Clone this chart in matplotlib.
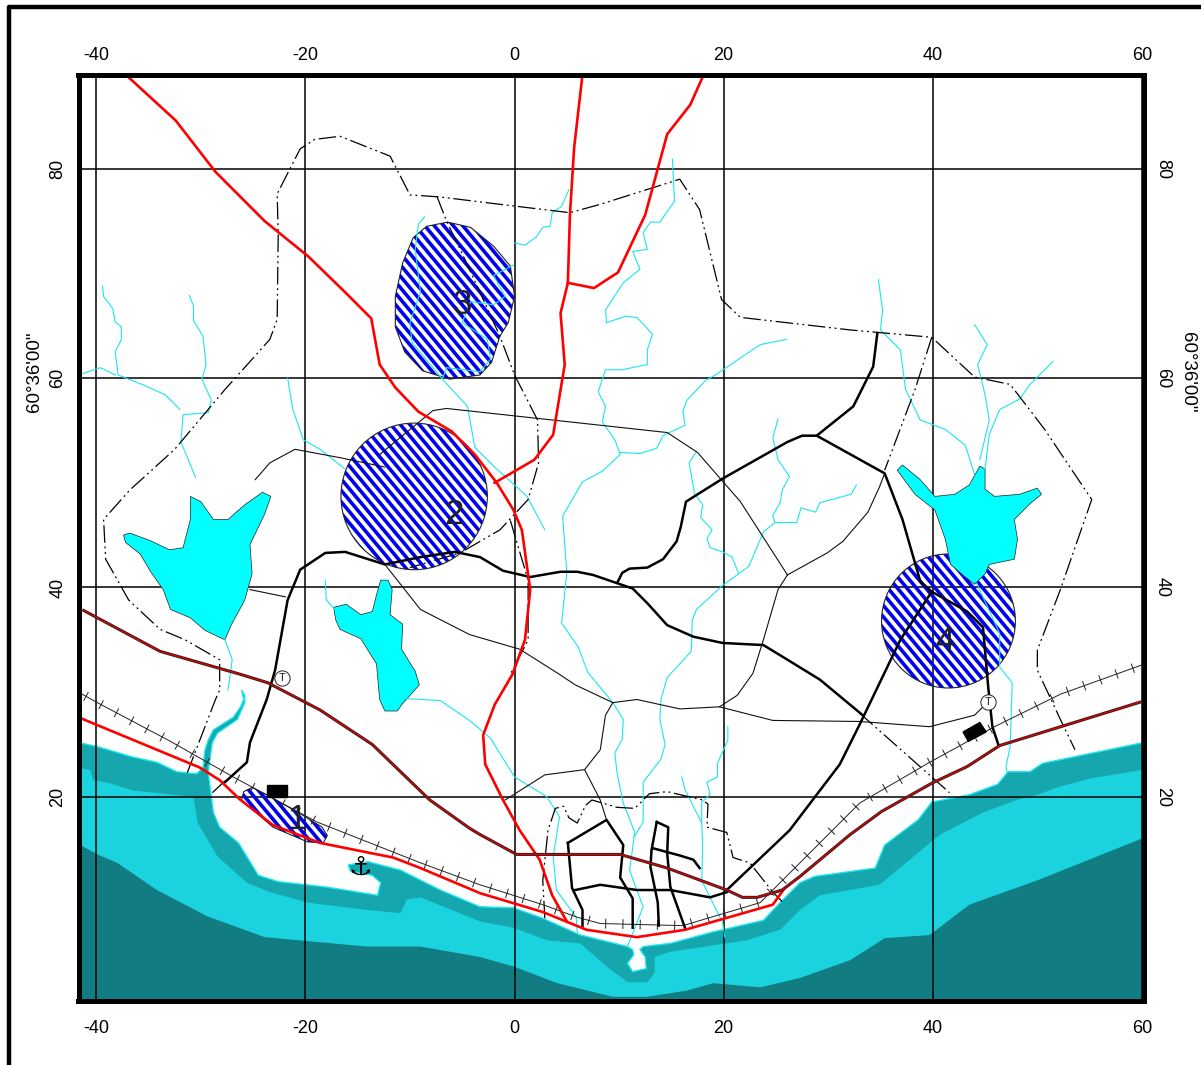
import matplotlib
matplotlib.use('Agg')
import matplotlib.pyplot as plt
import numpy as np
from matplotlib.lines import Line2D
from matplotlib.patches import Polygon, Circle, Rectangle

plt.rcParams['font.family'] = ['Liberation Sans', 'DejaVu Sans']
plt.rcParams['axes.unicode_minus'] = False

x_ticks = [-40, -20, 0, 20, 40, 60]
y_ticks = [20, 40, 60, 80]
lat_label = '60°36\'00"'

# sea layers, top edge of each from west to east
shore = [(-41.7,25.2),(-39.9,24.8),(-36.5,23.8),(-34.2,23.3),(-32.3,22.4),(-30.4,22.2),(-29.8,22.8),(-29.6,24.5),(-29.3,25.4),(-28.8,26.4),(-26.9,27.6),(-26.2,28.6),(-25.9,29.3),(-26.1,30.2),(-25.8,29.7),(-25.8,29.0),(-26.5,27.4),(-28.4,26.1),(-28.9,25.2),(-29.3,22.4),(-28.8,18.5),(-28.2,17.1),(-26.4,15.6),(-24.5,12.5),(-22.6,11.9),(-18.1,11.4),(-13.1,10.6),(-12.8,11.8),(-13.6,12.5),(-15.7,12.9),(-15.9,13.5),(-14.0,13.8),(-10.9,13.0),(-7.1,11.1),(-3.3,9.5),(-0.1,9.4),(2.7,8.4),(6.3,6.8),(10.8,5.7),(11.3,5.4),(11.4,4.9),(10.8,4.1),(11.3,3.3),(12.6,3.6),(12.5,4.7),(12.0,5.4),(12.3,5.7),(14.9,6.0),(19.0,7.1),(23.8,8.2),(25.4,9.9),(27.3,11.8),(28.7,12.4),(34.5,13.2),(35.4,15.4),(38.6,17.8),(39.9,19.5),(43.5,20.2),(46.2,21.2),(47.2,22.4),(49.3,22.4),(50.5,23.2),(53.4,23.8),(60.2,25.2)]
shallow = [(-41.7,22.7),(-40.6,22.6),(-40.3,21.6),(-38.7,21.3),(-36.5,20.6),(-30.7,20.0),(-30.3,17.5),(-28.4,14.3),(-25.6,11.8),(-23.4,10.9),(-19.8,9.9),(-14.1,9.2),(-10.9,8.9),(-10.3,10.2),(-9.0,10.4),(-3.3,8.1),(-0.1,7.5),(3.1,6.3),(6.3,6.0),(8.8,3.8),(10.8,2.3),(12.7,2.3),(13.4,3.2),(13.4,4.7),(14.9,5.2),(22.2,6.3),(25.4,7.3),(27.3,9.2),(29.2,10.6),(34.9,11.6),(37.8,14.0),(40.7,16.4),(44.8,18.5),(48.0,19.7),(50.0,20.2),(52.2,21.0),(55.3,21.8),(60.2,22.6)]
deep = [(-41.7,15.5),(-39.9,14.5),(-38.0,13.7),(-34.2,11.1),(-29.4,8.6),(-23.9,6.6),(-14.1,5.7),(-9.0,5.7),(-3.3,4.7),(-0.1,3.8),(4.1,2.2),(9.4,0.9),(12.7,0.9),(16.5,1.5),(19.0,2.2),(23.5,1.8),(27.3,2.7),(32.1,4.4),(35.4,6.5),(39.7,6.8),(43.5,9.7),(50.2,12.1),(60.2,16.1)]

lake_a = [(-37.4,45.0),(-36.8,45.2),(-34.9,44.5),(-33.0,43.6),(-31.7,43.8),(-31.0,46.5),(-31.0,48.7),(-30.0,48.2),(-28.8,46.5),(-27.4,46.5),(-25.8,47.9),(-24.1,49.1),(-23.3,48.7),(-23.9,47.0),(-25.3,44.1),(-25.1,41.3),(-25.8,38.8),(-27.1,36.4),(-27.7,35.0),(-29.6,35.9),(-31.0,37.1),(-32.9,37.9),(-33.6,39.8),(-34.8,41.5),(-35.8,43.2),(-37.2,44.3)]
lake_b = [(-17.3,38.1),(-16.1,38.4),(-14.7,37.4),(-13.6,37.7),(-13.2,39.3),(-12.8,40.7),(-12.1,40.7),(-11.7,39.8),(-11.9,37.4),(-10.7,36.5),(-10.8,34.1),(-9.5,32.0),(-9.1,30.7),(-10.8,28.8),(-11.2,28.2),(-12.4,28.2),(-12.9,29.3),(-13.2,32.7),(-14.7,35.1),(-16.7,36.0),(-17.1,36.9)]
lake_c = [(36.6,51.2),(37.1,51.7),(38.8,50.3),(40.2,48.7),(42.1,48.9),(43.5,49.8),(44.5,51.6),(45.0,51.3),(45.0,49.4),(45.9,48.7),(48.3,48.9),(50.0,49.5),(50.4,48.9),(49.3,48.0),(47.8,46.5),(48.1,44.6),(47.8,42.7),(45.4,42.2),(45.0,41.3),(44.0,40.3),(43.1,41.0),(41.7,42.2),(41.2,44.6),(40.2,47.4),(38.3,48.9)]

# hatched zones
zone_1 = [(-25.1,20.9),(-23.7,20.2),(-20.5,18.4),(-18.4,17.1),(-17.9,16.3),(-18.3,15.6),(-19.8,15.7),(-23.1,17.1),(-26.1,19.7),(-25.9,20.5)]
zone_3 = [(-6.4,74.9),(-4.2,74.4),(-2.0,72.6),(-0.4,70.7),(0,67.8),(-0.6,65.3),(-1.4,64.0),(-2.2,61.5),(-3.3,60.3),(-6.2,59.9),(-8.8,60.7),(-10.5,62.5),(-11.4,64.9),(-11.4,67.8),(-10.7,71.0),(-9.7,73.4),(-8.4,74.5)]
zone_2_centre = (-9.6, 48.7)
zone_2_radius = 7.0
zone_4_centre = (41.5, 36.8)
zone_4_radius = 6.4
zone_numbers = ['1', '2', '3', '4']
zone_number_x = [-20.8, -5.8, -5.0, 41.2]
zone_number_y = [17.8, 47.0, 67.0, 34.8]

# red roads
red_roads = [
    [(-37.2,89.0),(-32.4,84.6),(-28.6,79.7),(-23.9,75.0),(-19.7,71.6),(-16.2,68.2),(-13.7,65.7),(-12.9,61.3),(-11.4,59.1),(-9.2,56.8),(-6.0,54.9),(-3.8,52.7),(-1.7,50.0),(-0.1,47.4),(0.7,45.5),(1.5,39.8),(1.0,35.0),(-0.2,31.7),(-1.9,28.8),(-3.0,25.9),(-2.8,23.1),(-1.1,19.7),(0.5,16.8),(2.4,14.0),(3.6,10.6),(5.0,8.1)],
    [(6.5,89.0),(5.7,82.0),(5.3,75.6),(5.1,69.1),(4.4,66.2),(4.8,61.3),(3.7,54.6),(1.9,52.2),(-1.9,50.0)],
    [(18.1,89.0),(16.8,86.1),(14.6,83.3),(12.5,75.6),(9.9,70.1),(7.6,68.6),(5.1,69.1)],
    [(-41.7,27.6),(-30.1,22.8),(-28.2,21.6),(-26.2,19.7),(-23.1,17.3),(-18.6,15.6),(-11.6,14.2),(-9.0,13.2),(-3.3,10.8),(2.7,9.0),(6.9,7.3),(11.7,6.6),(16.3,7.3),(24.7,9.7),(25.7,11.1)],
]
highway = [(-41.2,37.8),(-33.9,33.9),(-26.2,31.7),(-23.6,30.9),(-18.6,28.3),(-13.6,25.0),(-8.1,19.7),(-4.3,17.0),(-3.3,16.4),(0.2,14.5),(10.1,14.5),(14.6,13.2),(20.3,11.1),(21.8,10.4),(23.2,10.4),(25.6,11.1),(27.3,12.4),(32.1,16.4),(35.1,18.6),(39.9,21.3),(43.3,22.9),(46.4,24.9),(60.0,29.1)]
railway = [(-41.7,30.0),(-39.9,29.0),(-32.9,25.3),(-26.9,21.9),(-18.9,17.6),(-9.0,13.7),(-3.3,11.6),(2.7,9.7),(6.0,8.5),(8.2,7.9),(16.1,7.7),(23.5,9.9),(27.3,13.7),(33.0,19.4),(39.7,23.3),(45.9,26.7),(52.2,29.8),(60.0,32.6)]

# black roads
black_roads = [
    [(-27.7,21.4),(-25.6,23.3),(-25.3,25.2),(-23.7,29.3),(-22.9,32.1),(-21.7,38.8),(-20.5,41.7),(-18.1,43.3),(-16.2,43.4),(-12.4,42.2),(-9.0,42.9),(-5.7,43.4),(-3.3,42.9),(-1.1,41.6),(1.5,41.0),(4.4,41.5),(6.0,41.5),(7.5,41.2),(11.3,39.9),(12.7,38.5),(14.6,36.4),(17.1,35.3),(19.9,34.7),(23.8,34.5),(26.1,33.1),(29.2,31.2),(33.3,27.8)],
    [(9.9,40.6),(10.3,41.4),(11.0,41.8),(12.7,41.9),(14.2,42.7),(15.5,44.4),(15.9,45.8),(16.4,48.2),(19.9,50.4),(26.1,53.9),(27.5,54.5),(28.9,54.5),(32.4,57.3),(34.3,61.1),(34.7,64.3)],
    [(28.9,54.5),(35.4,50.9),(37.1,46.5),(38.8,40.6),(39.9,39.6),(43.3,37.7),(44.8,36.2),(45.3,30.5),(45.7,26.7),(46.3,24.9)],
    [(39.9,39.6),(36.9,35.0),(33.0,26.9),(31.1,23.1),(26.3,16.8),(20.3,11.1)],
    [(5.1,15.6),(8.8,17.8),(10.4,15.4),(10.1,12.3),(11.3,10.3),(11.3,7.5)],
    [(5.1,15.6),(5.5,11.3),(6.5,9.2),(6.5,7.5)],
    [(5.8,11.1),(8.2,11.6),(11.7,11.1),(14.9,11.1),(18.7,10.4),(20.3,10.9)],
    [(13.6,17.6),(14.7,17.1),(14.6,14.6),(14.9,11.4),(16.3,7.5)],
    [(13.6,17.6),(13.1,14.9),(13.0,13.3),(13.7,9.9),(13.8,7.7)],
    [(13.2,15.1),(15.8,14.4),(17.1,14.0),(17.7,13.2)],
]

# thin tracks
tracks = [
    [(-24.8,50.3),(-23.4,51.9),(-21.0,53.2),(-16.7,52.4),(-12.4,51.5)],
    [(-12.9,52.7),(-7.8,56.9),(-6.5,57.1),(14.6,54.8),(17.5,52.9),(21.6,48.2),(26.1,41.2)],
    [(26.1,41.2),(29.9,43.3),(31.4,44.4),(33.8,47.2),(34.9,49.6),(35.4,50.9)],
    [(26.1,41.2),(25.2,39.8),(23.8,35.0),(22.8,31.8),(21.3,29.7),(19.6,28.6),(15.8,28.4),(11.7,29.3),(9.4,29.0),(8.7,27.8),(8.2,24.5),(6.7,22.6),(2.9,22.1),(-0.9,19.7)],
    [(-12.4,42.2),(-9.0,37.9),(-4.3,35.5),(0.5,34.1),(4.3,31.7),(5.8,30.7),(9.4,29.0)],
    [(19.6,28.6),(24.7,27.3),(33.0,27.2),(39.7,26.7),(44.0,27.8),(45.5,29.3)],
    [(6.7,22.6),(8.2,19.7),(8.8,17.8)],
    [(-25.3,39.8),(-21.9,39.1)],
]

# dash dot dot boundaries
boundaries = [
    [(-31.3,22.3),(-28.6,29.3),(-28.2,30.2),(-28.2,33.1),(-31.5,35.0),(-33.9,36.0),(-36.9,38.8),(-39.1,42.7),(-39.3,46.5),(-36.8,49.3),(-32.5,53.2),(-27.7,58.9),(-23.4,63.7),(-22.7,65.6),(-22.6,73.7),(-22.7,77.6),(-20.5,81.9),(-19.1,82.8),(-16.7,83.1),(-11.9,81.2),(-10.0,77.5),(-7.1,77.3),(-1.4,76.6),(5.3,75.8),(8.2,76.6),(15.8,79.0),(17.7,76.1),(19.8,67.5),(21.6,65.8),(32.1,64.6),(39.9,63.9),(44.0,60.1),(47.4,59.4),(50.7,55.1),(55.2,48.4),(52.2,39.8),(50.0,34.0),(50.0,32.1),(52.2,27.4),(53.6,24.5)],
    [(-7.4,77.3),(-6.5,75.0),(-5.2,72.3),(-3.3,68.2),(-1.4,64.0),(0,60.3),(2.2,56.0),(2.3,51.9),(1.3,48.4),(-1.4,45.5),(-5.2,43.3),(-10.0,41.9)],
    [(-0.4,46.4),(1.3,40.7),(1.3,35.0),(-0.4,31.7)],
    [(2.9,8.4),(2.7,12.0),(3.2,16.8),(3.9,18.9),(4.7,19.1),(5.2,18.0),(6.0,17.5),(6.8,19.2),(7.4,19.7),(9.8,19.0),(11.5,18.9),(12.9,20.3),(14.6,20.5),(18.0,19.7),(18.5,19.3),(18.4,17.1),(20.3,16.6),(20.9,14.2),(22.5,13.7),(24.7,10.9),(25.6,10.0)],
    [(33.0,28.0),(41.6,20.4)],
    [(39.9,63.9),(38.3,58.9),(35.4,51.2)],
    [(-28.9,20.4),(-27.5,21.7)],
]

rivers = [
    [(-39.4,68.8),(-39.3,67.8),(-38.4,66.6),(-38.2,65.4),(-37.6,64.9),(-37.6,63.7),(-38.2,62.5),(-37.9,60.3),(-35.4,59.3),(-33.4,58.4),(-32.0,57.0)],
    [(-41.7,60.3),(-39.6,61.0),(-38.2,60.3)],
    [(-31.1,67.9),(-30.7,66.9),(-30.7,65.5),(-29.8,64.0),(-29.5,61.3),(-29.9,59.9),(-29.0,57.9),(-29.3,56.7),(-31.7,56.5),(-31.9,53.9),(-30.5,50.5)],
    [(-21.7,60.0),(-21.2,57.0),(-20.2,54.1),(-18.6,53.2),(-16.2,51.3)],
    [(-27.7,35.0),(-27.0,33.1),(-27.4,30.2)],
    [(-18.1,40.7),(-18.0,38.8),(-17.2,37.9)],
    [(-10.8,29.4),(-7.1,29.2),(-4.3,27.3),(-2.3,25.6),(0.0,21.9),(3.1,20.0),(4.3,18.1),(3.7,14.3),(4.0,11.1),(5.9,8.5),(6.0,7.0)],
    [(-8.6,75.4),(-9.2,74.7),(-9.5,72.3),(-9.0,68.2),(-10.0,65.3),(-9.8,63.4),(-6.9,59.9),(-4.5,57.3),(-3.8,53.4),(-1.9,51.5),(1.2,48.7),(2.9,45.5)],
    [(-0.1,70.8),(-2.0,69.8),(-0.9,67.8),(-2.0,67.0),(-4.2,67.3),(-5.0,65.3),(-2.6,63.7),(-2.3,61.8),(-3.3,60.6),(-6.5,61.0),(-6.9,59.9)],
    [(0,72.9),(1.0,72.7),(2.1,73.5),(2.7,74.4),(3.4,74.5),(3.6,75.8),(4.5,76.4),(5.2,78.0)],
    [(15.1,80.9),(15.3,76.9),(13.9,74.9),(13.0,74.9),(12.3,73.9),(12.7,72.3),(11.3,72.1),(12.0,70.4),(10.4,69.1),(8.7,66.5),(8.8,65.3),(10.6,65.9),(11.7,65.8),(13.2,64.2),(12.7,62.7),(12.7,61.3),(10.3,60.8),(8.7,60.8),(8.0,58.7),(8.7,57.3),(8.4,55.8),(9.6,54.1),(10.1,52.7),(8.4,51.1),(6.5,50.1),(4.6,46.8),(5.0,41.4),(4.5,36.6),(6.1,34.3),(7.0,31.9),(9.4,29.0),(10.4,27.4),(10.3,25.5),(9.6,24.2),(9.8,22.3),(10.4,19.4),(11.5,16.6),(11.0,13.0),(12.3,9.5),(10.8,5.7)],
    [(10.1,52.9),(12.0,52.8),(13.6,53.3),(14.2,54.5),(16.3,55.5),(16.1,56.9),(16.5,57.9),(18.3,59.8),(19.2,60.3),(23.5,63.2),(26.0,63.7)],
    [(17.4,53.0),(16.7,51.9),(17.2,49.0),(18.0,47.9),(17.8,46.7),(18.9,45.5),(18.4,44.7),(18.7,43.8),(19.9,43.4),(20.8,42.9),(21.4,41.4)],
    [(24.9,46.2),(23.8,45.3),(22.4,42.0),(19.9,40.2),(17.4,37.9),(17.0,36.9),(16.9,33.9),(14.6,31.4),(14.0,29.3),(13.9,27.4),(14.4,25.0),(14.0,23.6),(12.3,21.4),(12.3,17.6),(11.4,16.1)],
    [(25.2,56.1),(24.7,54.3),(25.2,52.2),(26.3,50.6),(25.6,49.3),(25.4,48.1),(24.7,46.9),(24.9,46.2),(27.0,46.2),(27.4,47.6),(28.8,47.2),(29.2,48.1),(32.2,48.9),(32.7,49.8)],
    [(20.4,26.7),(20.4,25.4),(19.4,23.2),(19.4,21.9),(18.4,21.4),(18.7,20.2),(17.9,19.5),(17.9,17.5)],
    [(16.0,21.9),(16.3,20.7),(17.9,17.5),(18.0,15.2),(17.9,12.0),(19.9,8.0),(20.1,6.6)],
    [(34.8,69.4),(35.2,66.5),(35.0,64.6),(36.9,62.7),(37.4,58.9),(38.8,56.0),(41.2,55.1),(43.1,53.6),(44.0,50.8)],
    [(44.0,65.1),(45.2,63.2),(44.3,61.3),(45.0,58.4),(45.4,56.0),(44.5,52.2)],
    [(51.5,61.6),(49.3,59.4),(48.3,58.0),(46.4,57.0),(45.4,54.6),(45.0,51.3)],
    [(44.2,40.4),(46.4,35.6),(46.4,32.4),(47.6,30.9),(47.4,24.8),(47.0,22.9),(47.1,22.4)],
]

# small buildings and symbols
building_corner = (-23.7, 20.0)
building_size = (1.9, 1.15)
building_2 = [(42.9,26.2),(44.5,27.1),(45.1,26.2),(43.4,25.3)]
t_signs = [(-22.2, 31.4), (45.3, 29.1)]
anchor_pos = (-14.8, 13.2)


def xy(points):
    a = np.array(points)
    return a[:, 0], a[:, 1]


def sea_patch(edge, colour, z, edge_colour='none'):
    closed = list(edge) + [(60.2, 0.0), (-41.7, 0.0)]
    ax.add_patch(Polygon(closed, closed=True, facecolor=colour, edgecolor=edge_colour, linewidth=1.0, zorder=z))


# blue stripes clipped to the zone outline
def striped(patch):
    ax.add_patch(patch)
    x0, x1 = ax.get_xlim()
    for c in np.arange(-60, 180, 1.09):
        line, = ax.plot([x0, x1], [c - 1.2 * x0, c - 1.2 * x1], color='#0000f0', lw=2.6, zorder=3)
        line.set_clip_path(patch)
    patch.set_zorder(2)


def rail_ticks(points, spacing=1.65, half=0.42):
    x, y = xy(points)
    dist = np.r_[0, np.cumsum(np.hypot(np.diff(x), np.diff(y)))]
    for d in np.arange(spacing / 2, dist[-1], spacing):
        i = min(np.searchsorted(dist, d), len(x) - 1)
        dx, dy = x[i] - x[i - 1], y[i] - y[i - 1]
        n = np.hypot(dx, dy)
        px, py = np.interp(d, dist, x), np.interp(d, dist, y)
        ax.plot([px - dy / n * half, px + dy / n * half], [py + dx / n * half, py - dx / n * half], color='#222222', lw=0.7, zorder=6)


fig = plt.figure(figsize=(12.01, 10.65), dpi=100)
ax = fig.add_axes([78.5 / 1201, 1 - 1001 / 1065, (1144 - 78.5) / 1201, (1001 - 74.5) / 1065])
ax.set_xlim(-41.7, 60.2)
ax.set_ylim(0.5, 89.0)

sea_patch(shore, '#16a6ae', 1, '#1ce8f0')
sea_patch(shallow, '#1bd3de', 1.1)
sea_patch(deep, '#117c82', 1.2)

striped(Polygon(zone_1, closed=True, facecolor='white', edgecolor='none'))
striped(Polygon(zone_3, closed=True, facecolor='white', edgecolor='none'))
striped(Circle(zone_2_centre, zone_2_radius, facecolor='white', edgecolor='none'))
striped(Circle(zone_4_centre, zone_4_radius, facecolor='white', edgecolor='none'))
ax.add_patch(Polygon(zone_1, closed=True, fill=False, edgecolor='#222222', lw=0.8, zorder=3.5))
ax.add_patch(Polygon(zone_3, closed=True, fill=False, edgecolor='#222222', lw=0.8, zorder=3.5))
ax.add_patch(Circle(zone_2_centre, zone_2_radius, fill=False, edgecolor='#222222', lw=0.8, zorder=3.5))
ax.add_patch(Circle(zone_4_centre, zone_4_radius, fill=False, edgecolor='#222222', lw=0.8, zorder=3.5))

for lake in [lake_a, lake_b, lake_c]:
    ax.add_patch(Polygon(lake, closed=True, facecolor='#00ffff', edgecolor='#222222', lw=0.5, zorder=4))

for r in rivers:
    ax.plot(*xy(r), color='#19e6f2', lw=0.8, zorder=4.5)
for b in boundaries:
    ax.plot(*xy(b), color='black', lw=0.9, ls=(0, (14, 3, 1.5, 3, 1.5, 3)), zorder=5)
for t in tracks:
    ax.plot(*xy(t), color='#111111', lw=0.8, zorder=5)

ax.plot(*xy(railway), color='#222222', lw=0.7, zorder=6)
rail_ticks(railway)

for r in black_roads:
    ax.plot(*xy(r), color='black', lw=1.8, zorder=6)
for r in red_roads:
    ax.plot(*xy(r), color='#ff0000', lw=1.9, zorder=7)
ax.plot(*xy(highway), color='#222222', lw=2.2, zorder=7)
ax.plot(*xy(highway), color='#e00000', lw=1.0, zorder=7.1)

ax.add_patch(Rectangle(building_corner, building_size[0], building_size[1], color='black', zorder=8))
ax.add_patch(Polygon(building_2, closed=True, color='black', zorder=8))

for sx, sy in t_signs:
    ax.plot(sx, sy, 'o', ms=11, mfc='white', mec='#222222', mew=0.7, zorder=8)
    ax.text(sx, sy, 'T', fontsize=8, ha='center', va='center', color='#222222', zorder=9)
ax.text(anchor_pos[0], anchor_pos[1], '\u2693', fontsize=19, ha='center', va='center', family='DejaVu Sans', color='black', zorder=9)

for label, zx, zy in zip(zone_numbers, zone_number_x, zone_number_y):
    ax.text(zx, zy, label, fontsize=25, ha='center', va='center', color='#222222', zorder=9)

ax.set_xticks(x_ticks)
ax.set_yticks(y_ticks)
ax.grid(True, color='black', lw=1.1, zorder=8)
ax.set_axisbelow(False)
ax.tick_params(axis='x', length=0, labelsize=13, pad=13.5)
ax.tick_params(axis='y', length=0, labelsize=13, pad=8.7, labelrotation=90)
for lab in ax.get_yticklabels():
    lab.set_va('center')
for s in ax.spines.values():
    s.set_linewidth(3.6)
    s.set_zorder(10)

top = ax.secondary_xaxis('top')
top.set_xticks(x_ticks)
top.tick_params(length=0, labelsize=13, pad=7.7)
top.spines['top'].set_visible(False)
right = ax.secondary_yaxis('right')
right.set_yticks(y_ticks)
right.tick_params(length=0, labelsize=13, pad=7.2, labelrotation=270)
right.spines['right'].set_visible(False)
for lab in right.get_yticklabels():
    lab.set_va('center')

fig.text(34 / 1201, 1 - 372 / 1065, lat_label, rotation=90, fontsize=13.5, ha='center', va='center')
fig.text(1187 / 1201, 1 - 372 / 1065, lat_label, rotation=270, fontsize=13.5, ha='center', va='center')

# outer frame, runs off the page at top right and bottom
fig.add_artist(Line2D([9 / 1201, 9 / 1201, 1], [0, 1 - 7 / 1065, 1 - 7 / 1065], color='black', lw=3.2))

fig.savefig('out.png', dpi=100)
